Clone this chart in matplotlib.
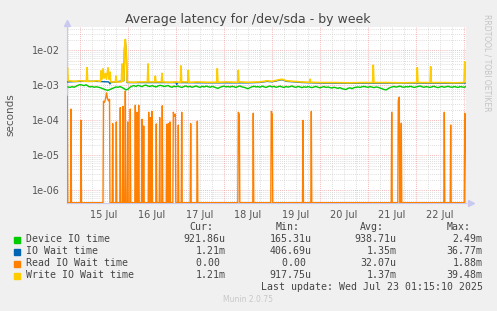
import matplotlib.pyplot as plt
from matplotlib.patches import Rectangle
import numpy as np

# --- time range (days of July 2025), one pixel = 30 min in the original graph ---
t_start, t_end = 14.729, 23.042
y_min, y_max = 4.34e-7, 4.8e-2

days = [15, 16, 17, 18, 19, 20, 21, 22, 23]
day_labels = ['15 Jul', '16 Jul', '17 Jul', '18 Jul', '19 Jul', '20 Jul', '21 Jul', '22 Jul']

# Device IO time, sampled every hour from 14.75 (microseconds)
device_us = [900, 870, 920, 880, 940, 1000, 1050, 1020, 980, 1040, 950, 900,
             930, 880, 910, 890, 860, 820, 780, 740, 720, 760, 800, 850,
             900, 880, 920, 870, 800, 740, 780, 880, 950, 980, 930, 1000,
             960, 920, 990, 1010, 950, 930, 980, 940, 900, 960, 1000, 970,
             930, 950, 990, 920, 880, 950, 910, 960, 900, 870, 930, 960,
             900, 940, 880, 920, 960, 910, 870, 940, 900, 950, 920, 880,
             930, 900, 850, 820, 880, 920, 950, 900, 930, 890, 940, 910,
             870, 930, 960, 900, 880, 840, 800, 860, 910, 940, 900, 920,
             880, 950, 910, 870, 920, 960, 900, 940, 880, 910, 950, 900,
             870, 930, 890, 920, 960, 900, 880, 930, 900, 860, 910, 880,
             920, 890, 860, 900, 930, 880, 850, 890, 920, 870, 900, 860,
             840, 880, 850, 820, 860, 800, 780, 760, 820, 850, 800, 860,
             880, 900, 870, 910, 930, 900, 880, 920, 890, 860, 900, 880,
             840, 800, 760, 740, 800, 860, 900, 930, 890, 920, 950, 900,
             880, 920, 900, 940, 910, 870, 900, 930, 960, 910, 880, 920,
             900, 870, 910, 940, 890, 860, 900, 930, 880, 910, 940, 900,
             880, 920, 900, 870, 920, 900, 880, 920]
device_step = 1 / 24

# Write IO wait time (seconds)
write_t = [14.729, 14.739, 14.752, 14.9, 15.0, 15.133, 15.146, 15.159, 15.25, 15.35,
           15.427, 15.437, 15.458, 15.479, 15.5, 15.531, 15.55, 15.583, 15.604, 15.625,
           15.64, 15.737, 15.75, 15.763, 15.862, 15.875, 15.89, 15.915, 15.927, 15.944,
           15.965, 15.98, 16.1, 16.25, 16.404, 16.417, 16.43, 16.556, 16.569, 16.582,
           16.695, 16.708, 16.721, 16.85, 17.0, 17.091, 17.104, 17.117, 17.243, 17.256,
           17.269, 17.45, 17.65, 17.847, 17.86, 17.873, 18.05, 18.285, 18.298, 18.311,
           18.5, 18.75, 18.9, 19.0, 19.1, 19.208, 19.3, 19.45, 19.6, 19.78,
           19.792, 19.805, 20.0, 20.3, 20.6, 20.9, 21.097, 21.11, 21.123, 21.4,
           21.7, 22.014, 22.027, 22.04, 22.293, 22.306, 22.319, 22.6, 22.8, 23.0,
           23.015, 23.03, 23.045]
write_v = [2.6e-3, 3.2e-3, 1.35e-3, 1.3e-3, 1.35e-3, 1.3e-3, 3.2e-3, 1.3e-3, 1.3e-3, 1.35e-3,
           1.3e-3, 2.6e-3, 1.5e-3, 3.0e-3, 1.6e-3, 2.2e-3, 1.5e-3, 3.2e-3, 1.5e-3, 2.4e-3,
           1.25e-3, 1.25e-3, 1.85e-3, 1.25e-3, 1.25e-3, 4.1e-3, 1.3e-3, 1.4e-3, 1.2e-2, 2.06e-2,
           8e-3, 1.25e-3, 1.22e-3, 1.25e-3, 1.25e-3, 4.1e-3, 1.25e-3, 1.25e-3, 1.85e-3, 1.25e-3,
           1.25e-3, 2.2e-3, 1.25e-3, 1.22e-3, 1.25e-3, 1.22e-3, 3.6e-3, 1.25e-3, 1.25e-3, 2.7e-3,
           1.22e-3, 1.25e-3, 1.22e-3, 1.22e-3, 3.0e-3, 1.22e-3, 1.25e-3, 1.22e-3, 2.7e-3, 1.25e-3,
           1.22e-3, 1.25e-3, 1.35e-3, 1.3e-3, 1.4e-3, 1.5e-3, 1.35e-3, 1.3e-3, 1.25e-3, 1.22e-3,
           1.5e-3, 1.22e-3, 1.2e-3, 1.2e-3, 1.18e-3, 1.2e-3, 1.2e-3, 3.8e-3, 1.2e-3, 1.2e-3,
           1.18e-3, 1.2e-3, 3.2e-3, 1.2e-3, 1.2e-3, 3.4e-3, 1.2e-3, 1.2e-3, 1.18e-3, 1.2e-3,
           4.7e-3, 3.0e-3, 1.2e-3]

# IO wait time (seconds), mostly hidden under the write line
iowait_t = [14.729, 15.0, 15.35, 15.6, 15.625, 15.64, 15.915, 15.927, 15.944, 15.965,
            15.98, 16.25, 17.0, 17.015, 17.03, 17.65, 18.5, 18.75, 18.9, 19.0,
            19.1, 19.208, 19.3, 19.45, 19.6, 20.0, 20.6, 21.4, 22.0, 22.8, 23.045]
iowait_v = [1.25e-3, 1.3e-3, 1.3e-3, 1.25e-3, 1.1e-3, 1.2e-3, 1.35e-3, 1.1e-2, 1.9e-2, 7e-3,
            1.2e-3, 1.2e-3, 1.2e-3, 1.05e-3, 1.2e-3, 1.18e-3, 1.18e-3, 1.21e-3, 1.3e-3, 1.26e-3,
            1.35e-3, 1.45e-3, 1.3e-3, 1.26e-3, 1.21e-3, 1.16e-3, 1.15e-3, 1.16e-3, 1.16e-3, 1.15e-3,
            1.16e-3]

# Read IO wait time: non-zero samples only (zero everywhere else)
read_peak_t = [14.735, 14.812, 15.021, 15.489, 15.51, 15.531, 15.552, 15.573, 15.594, 15.615,
               15.681, 15.756, 15.839, 15.896, 15.944, 15.994, 16.048, 16.152, 16.187, 16.223,
               16.292, 16.327, 16.431, 16.464, 16.5, 16.589, 16.66, 16.714, 16.806, 16.839,
               16.875, 16.944, 16.965, 16.986, 17.048, 17.119, 17.306, 17.444, 18.298, 18.319,
               18.61, 18.985, 19.006, 19.646, 19.819, 21.494, 21.631, 21.652, 21.694, 22.59,
               22.723, 23.015, 23.036]
read_peak_v = [4.9e-4, 2.1e-4, 1.0e-4, 3.5e-4, 3.3e-4, 4.0e-4, 6.1e-4, 4.2e-4, 3.6e-4, 4.0e-4,
               8e-5, 9e-5, 2.3e-4, 2.5e-4, 6.9e-4, 9e-5, 2.1e-4, 2.7e-4, 1.7e-4, 2.7e-4,
               1.07e-4, 6.9e-5, 1.7e-4, 1.2e-4, 1.8e-4, 7.9e-5, 1.2e-4, 2.6e-4, 7.7e-5, 8e-5,
               9e-5, 1.7e-4, 1.3e-4, 1.5e-4, 7.3e-5, 1.7e-4, 8e-5, 9.5e-5, 1.7e-4, 1.5e-4,
               1.6e-4, 1.8e-4, 1.5e-4, 1.0e-4, 1.8e-4, 1.7e-4, 3.6e-4, 4.6e-4, 8.2e-5, 1.7e-4,
               7.3e-5, 1.6e-4, 1.3e-4]

col_green = '#00CC00'
col_blue = '#0066B3'
col_orange = '#FF8000'
col_yellow = '#FFCC00'

legend_names = ['Device IO time', 'IO Wait time', 'Read IO Wait time', 'Write IO Wait time']
legend_colors = [col_green, col_blue, col_orange, col_yellow]
cur_vals = ['921.86u', '1.21m', '0.00 ', '1.21m']
min_vals = ['165.31u', '406.69u', '0.00 ', '917.75u']
avg_vals = ['938.71u', '1.35m', '32.07u', '1.37m']
max_vals = ['2.49m', '36.77m', '1.88m', '39.48m']

# build the read series: drop to zero around isolated samples
rt, rv = [], []
for i, (t, v) in enumerate(zip(read_peak_t, read_peak_v)):
    if i == 0 or t - read_peak_t[i - 1] > 0.03:
        rt.append(t - 0.01); rv.append(0.0)
    rt.append(t); rv.append(v)
    if i == len(read_peak_t) - 1 or read_peak_t[i + 1] - t > 0.03:
        rt.append(t + 0.01); rv.append(0.0)
rv = np.clip(rv, y_min * 1.02, None)

device_t = 14.75 + np.arange(len(device_us)) * device_step
device_v = np.array(device_us) * 1e-6

W, H = 497, 311
fig = plt.figure(figsize=(W / 100, H / 100), dpi=100)
fig.patch.set_facecolor('#F0F0F0')
ax = fig.add_axes([67 / W, 1 - 203 / H, 399 / W, 176.5 / H])
ax.set_facecolor('white')
ax.set_yscale('log')
ax.set_xlim(t_start, t_end)
ax.set_ylim(y_min, y_max)

# grid
grid_minor = dict(color='#d4d4d4', lw=0.6, ls=(0, (1, 1.5)), zorder=0)
grid_major = dict(color='#f2a0a0', lw=0.6, ls=(0, (1, 1.5)), zorder=0)
for e in range(-7, -1):
    for m in range(2, 10):
        y = m * 10.0 ** e
        if y_min < y < y_max:
            ax.axhline(y, **grid_minor)
for e in range(-6, -1):
    ax.axhline(10.0 ** e, **grid_major)
for d in days[:-1]:
    for q in (0.25, 0.5, 0.75):
        ax.axvline(d + q, **grid_minor)
ax.axvline(14.75, **grid_minor)
for d in days:
    ax.axvline(d, **grid_major)

ax.plot(device_t, device_v, color=col_green, lw=1.0, zorder=3)
ax.plot(iowait_t, iowait_v, color=col_blue, lw=1.0, zorder=4)
ax.plot(rt, rv, color=col_orange, lw=1.0, zorder=5)
ax.plot(write_t, write_v, color=col_yellow, lw=1.2, zorder=6)

ax.set_yticks([1e-6, 1e-5, 1e-4, 1e-3, 1e-2])
ax.set_yticklabels(['1e-06', '1e-05', '1e-04', '1e-03', '1e-02'])
ax.yaxis.set_minor_locator(plt.NullLocator())
ax.set_xticks([d + 0.5 for d in days[:-1]])
ax.set_xticklabels(day_labels)
ax.tick_params(length=0, labelsize=7, colors='#555555', pad=5)
ax.set_ylabel('seconds', fontsize=7.5, color='#555555', labelpad=12)
for s in ('top', 'right'):
    ax.spines[s].set_visible(False)
for s in ('left', 'bottom'):
    ax.spines[s].set_color('#c8c8e8')
    ax.spines[s].set_linewidth(0.8)
ax.plot([0], [1.02], marker='^', ms=5, color='#c8c8f0', transform=ax.transAxes, clip_on=False)
ax.plot([1.012], [0], marker='>', ms=5, color='#c8c8f0', transform=ax.transAxes, clip_on=False)

fig.text(248 / W, 1 - 19 / H, 'Average latency for /dev/sda - by week',
         ha='center', va='center', fontsize=9, color='#444444')
fig.text(487 / W, 1 - 14 / H, 'RRDTOOL / TOBI OETIKER', rotation=270,
         ha='center', va='top', fontsize=5.5, color='#c4c4c4')

mono = dict(family='DejaVu Sans Mono', fontsize=7.1, color='#444444', va='center')
col_right = [225.7, 311.7, 396.7, 482.7]
headers = ['Cur:', 'Min:', 'Avg:', 'Max:']
for x, h in zip(col_right, headers):
    fig.text((x - 12.5) / W, 1 - 227.5 / H, h, ha='right', **mono)
rows_y = [239.5, 251.5, 263.5, 275.5]
for i, y in enumerate(rows_y):
    fig.patches.append(Rectangle((14 / W, 1 - (y + 3) / H), 6 / W, 6 / H,
                                 transform=fig.transFigure, color=legend_colors[i]))
    fig.text(26 / W, 1 - y / H, legend_names[i], ha='left', **mono)
    for x, vals in zip(col_right, [cur_vals, min_vals, avg_vals, max_vals]):
        fig.text(x / W, 1 - y / H, vals[i], ha='right', **mono)
fig.text(482.7 / W, 1 - 287.5 / H, 'Last update: Wed Jul 23 01:15:10 2025', ha='right', **mono)
fig.text(248 / W, 1 - 300 / H, 'Munin 2.0.75', ha='center', va='center',
         fontsize=5.5, color='#c8c8c8')

fig.savefig('out.png', dpi=100, facecolor=fig.get_facecolor())
